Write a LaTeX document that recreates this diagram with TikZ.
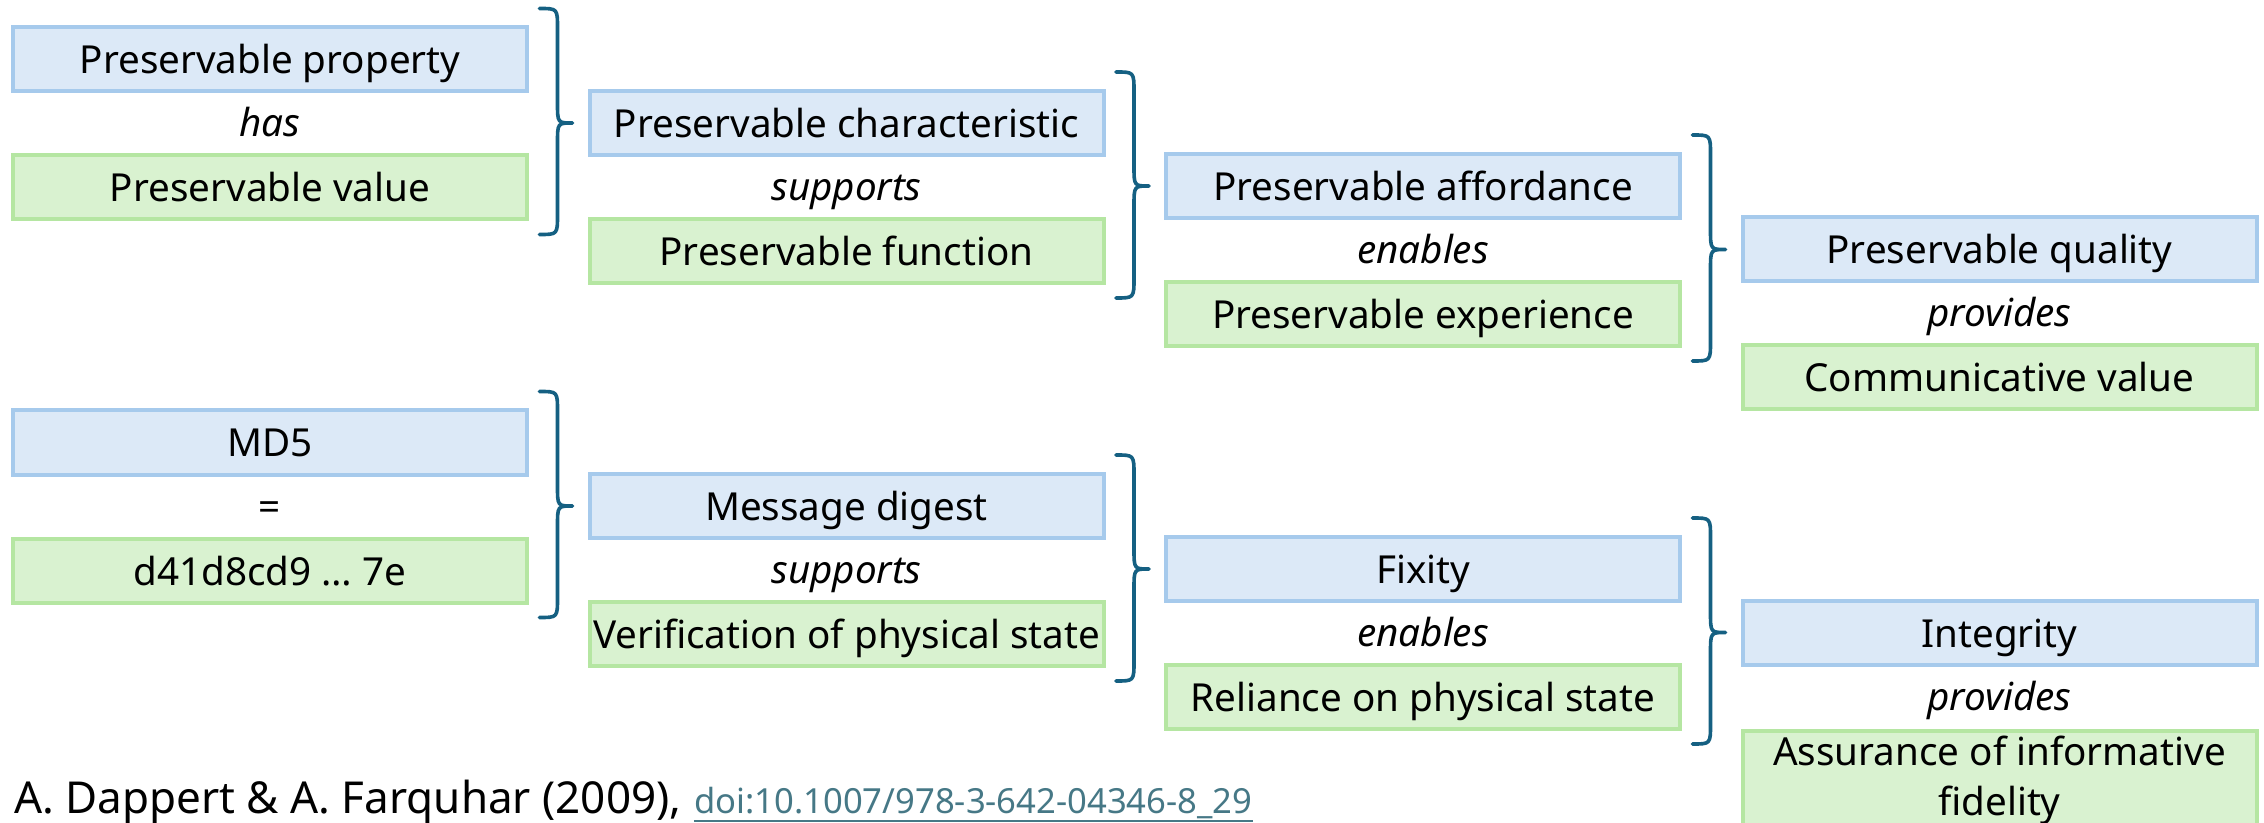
\documentclass[tikz,border=0pt]{standalone}
\usepackage{fontspec}
\setmainfont{Noto Sans}
\usetikzlibrary{calc}
\definecolor{boxblue}{HTML}{DCE9F7}
\definecolor{edgeblue}{HTML}{A6CAEC}
\definecolor{boxgreen}{HTML}{D9F2D0}
\definecolor{edgegreen}{HTML}{B5E6A2}
\definecolor{bracecol}{HTML}{156082}
\definecolor{linkcol}{HTML}{467886}

% curly brace: spans the left column (#1 top box, #2 bottom box), points at #3
\newcommand\curlyjoin[3]{%
  \draw[bracepath] let \p1=($(#3.west)+(-15,0)$),
                       \p2=($(#1.north)+(0,-17)$),
                       \p3=($(#2.south)+(0,13)$) in
    (\x1-16.5pt,\y2) .. controls (\x1-7.5pt,\y2) .. (\x1-7.5pt,\y2-10pt)
    -- (\x1-7.5pt,\y1+10pt) .. controls (\x1-7.5pt,\y1) .. (\x1,\y1)
    .. controls (\x1-7.5pt,\y1) .. (\x1-7.5pt,\y1-10pt)
    -- (\x1-7.5pt,\y3+10pt) .. controls (\x1-7.5pt,\y3) .. (\x1-16.5pt,\y3);}

\begin{document}
\begin{tikzpicture}[x=0.5pt,y=-0.5pt,
  termbox/.style={draw=edgeblue, fill=boxblue, line width=2pt,
    minimum width=257pt, minimum height=32pt, inner sep=0pt,
    text height=15pt, text depth=0.5pt,
    font=\fontsize{19.3}{23}\selectfont},
  valbox/.style={termbox, draw=edgegreen, fill=boxgreen},
  relation/.style={inner sep=0pt, text height=12.5pt, text depth=0.5pt,
    font=\fontsize{19.3}{23}\selectfont\itshape},
  bracepath/.style={draw=bracecol, line width=1.8pt, line cap=round, line join=round}]
\useasboundingbox (0,0) rectangle (2264,823);
\clip (0,0) rectangle (2264,823);

% ---- upper chain: preservation concepts
\node[termbox]  (prop)  at (270,59.5)   {Preservable property};
\node[relation] (has)   at (270,125)    {has};
\node[valbox]   (pval)  at (270,187.5)  {Preservable value};

\node[termbox]  (char)  at (846.5,123)  {Preservable characteristic};
\node[relation] (supA)  at (846.5,188.5){supports};
\node[valbox]   (func)  at (846.5,251)  {Preservable function};

\node[termbox]  (aff)   at (1423,186)   {Preservable affordance};
\node[relation] (enA)   at (1423,251.5) {enables};
\node[valbox]   (exper) at (1423,314)   {Preservable experience};

\node[termbox]  (qual)  at (1999.5,249.5){Preservable quality};
\node[relation] (provA) at (1999.5,315)  {provides};
\node[valbox]   (comm)  at (1999.5,377.5){Communicative value};

% ---- lower chain: MD5 example
\node[termbox]  (md5)   at (270,442.5)  {MD5};
\node[relation, font=\fontsize{19.3}{23}\selectfont] (eq) at (270,508) {=};
\node[valbox]   (hash)  at (270,570.5)  {d41d8cd9 … 7e};

\node[termbox]  (dig)   at (846.5,506)  {Message digest};
\node[relation] (supB)  at (846.5,571.5){supports};
\node[valbox]   (verif) at (846.5,634)  {Verification of physical state};

\node[termbox]  (fix)   at (1423,569)   {Fixity};
\node[relation] (enB)   at (1423,634.5) {enables};
\node[valbox]   (rel)   at (1423,697)   {Reliance on physical state};

\node[termbox]  (integ) at (1999.5,632.5){Integrity};
\node[relation] (provB) at (1999.5,698)  {provides};
\node[valbox, minimum height=49pt, align=center, text height=, text depth=,
      font=\fontsize{19.3}{25}\selectfont] (assur) at (1999.5,780)
      {Assurance of informative\\fidelity};

% ---- braces
\curlyjoin{prop}{pval}{char}
\curlyjoin{char}{func}{aff}
\curlyjoin{aff}{exper}{qual}
\curlyjoin{md5}{hash}{dig}
\curlyjoin{dig}{verif}{fix}
\curlyjoin{fix}{rel}{integ}

% ---- reference
\node[anchor=base west, inner sep=0pt, font=\fontsize{22}{26}\selectfont]
  (cite) at (14,813) {A. Dappert \& A. Farquhar (2009),};
\node[anchor=base west, inner sep=0pt, text=linkcol, font=\fontsize{17.3}{20}\selectfont]
  (doi) at ($(cite.base east)+(12,0)$) {doi:10.1007/978-3-642-04346-8\_29};
\draw[linkcol, line width=0.9pt] ($(doi.base west)+(0,8)$) -- ($(doi.base east)+(0,8)$);
\end{tikzpicture}
\end{document}
